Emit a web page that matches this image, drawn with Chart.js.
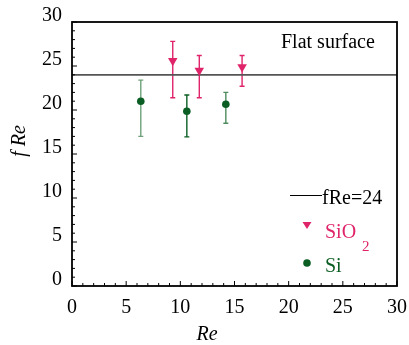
<!DOCTYPE html>
<html>
<head>
<meta charset="utf-8">
<script src="https://cdn.jsdelivr.net/npm/chart.js@4/dist/chart.umd.min.js"></script>
<style>
  html, body { margin: 0; padding: 0; background: #fff; }
  #wrap { width: 409px; height: 345px; }
</style>
</head>
<body>
<div id="wrap"><canvas id="fre"></canvas></div>
<script>
// values
var sio2Re = [9.3, 11.75, 15.7];
var sio2F = [25.6, 24.5, 24.9];
var sio2Lo = [21.4, 21.4, 22.7];
var sio2Hi = [27.8, 26.2, 26.2];

var siRe = [6.35, 10.6, 14.2];
var siF = [21.0, 19.85, 20.65];
var siLo = [17.0, 16.95, 18.5];
var siHi = [23.4, 21.7, 22.0];

var flatLineRe = [0, 30];
var flatLineF = [24, 24];

var tickValues = [0, 5, 10, 15, 20, 25, 30];

var PINK = '#e0246a';
var GREEN = '#0b5e23';
var SERIF = '"Liberation Serif", "Times New Roman", serif';

function pts(xs, ys) {
  return xs.map(function (x, i) { return { x: x, y: ys[i] }; });
}

// error bars, inward ticks, frame, legend and labels
var decor = {
  id: 'decor',
  beforeDatasetsDraw: function (chart) {
    var ctx = chart.ctx, xs = chart.scales.x, ys = chart.scales.y;
    function bars(re, lo, hi, colors) {
      for (var i = 0; i < re.length; i++) {
        var px = xs.getPixelForValue(re[i]);
        var pl = ys.getPixelForValue(lo[i]);
        var ph = ys.getPixelForValue(hi[i]);
        ctx.strokeStyle = colors[i];
        ctx.lineWidth = 1.4;
        ctx.beginPath();
        ctx.moveTo(px, pl); ctx.lineTo(px, ph);
        ctx.moveTo(px - 2.5, pl); ctx.lineTo(px + 2.5, pl);
        ctx.moveTo(px - 2.5, ph); ctx.lineTo(px + 2.5, ph);
        ctx.stroke();
      }
    }
    ctx.save();
    bars(sio2Re, sio2Lo, sio2Hi, [PINK, PINK, PINK]);
    bars(siRe, siLo, siHi, ['#6fa27b', GREEN, '#4f8c5e']);
    ctx.restore();
  },
  afterDraw: function (chart) {
    var ctx = chart.ctx, a = chart.chartArea;
    var xs = chart.scales.x, ys = chart.scales.y;
    ctx.save();
    ctx.strokeStyle = '#000';
    ctx.lineWidth = 1;
    ctx.beginPath();
    for (var v = 0; v <= 30; v++) {
      var len = v % 5 === 0 ? 5 : 3;
      var py = ys.getPixelForValue(v);
      ctx.moveTo(a.left, py); ctx.lineTo(a.left + len, py);
      var px = xs.getPixelForValue(v);
      ctx.moveTo(px, a.bottom); ctx.lineTo(px, a.bottom - len);
    }
    ctx.stroke();
    ctx.lineWidth = 1.8;
    ctx.strokeRect(a.left, a.top, a.right - a.left, a.bottom - a.top);

    ctx.fillStyle = '#000';
    ctx.font = '20px ' + SERIF;
    ctx.textBaseline = 'alphabetic';
    ctx.textAlign = 'left';
    ctx.fillText('Flat surface', 281, 48);

    // legend
    ctx.strokeStyle = '#000';
    ctx.lineWidth = 1;
    ctx.beginPath();
    ctx.moveTo(290, 195.5); ctx.lineTo(322, 195.5);
    ctx.stroke();
    ctx.fillText('fRe=24', 322, 204);

    ctx.fillStyle = PINK;
    ctx.beginPath();
    ctx.moveTo(302.5, 222); ctx.lineTo(311.5, 222); ctx.lineTo(307, 229);
    ctx.closePath(); ctx.fill();
    ctx.fillText('SiO', 325, 238);
    ctx.font = '15px ' + SERIF;
    ctx.fillText('2', 362, 251);

    ctx.fillStyle = GREEN;
    ctx.beginPath();
    ctx.arc(307, 263, 3.8, 0, Math.PI * 2);
    ctx.fill();
    ctx.font = '20px ' + SERIF;
    ctx.fillText('Si', 325, 272);

    // axis titles
    ctx.fillStyle = '#000';
    ctx.font = 'italic 20px ' + SERIF;
    ctx.textAlign = 'center';
    ctx.fillText('Re', 207, 340);
    ctx.translate(25, 141);
    ctx.rotate(-Math.PI / 2);
    ctx.fillText('f Re', 0, 0);
    ctx.restore();
  }
};

new Chart(document.getElementById('fre'), {
  type: 'scatter',
  data: {
    datasets: [
      {
        label: 'fRe=24',
        data: pts(flatLineRe, flatLineF),
        showLine: true,
        borderColor: '#555',
        borderWidth: 1.8,
        pointRadius: 0,
        order: 3
      },
      {
        label: 'SiO2',
        data: pts(sio2Re, sio2F),
        pointStyle: 'triangle',
        rotation: 180,
        pointRadius: 5.5,
        pointHoverRadius: 5.5,
        backgroundColor: PINK,
        borderColor: PINK,
        borderWidth: 0,
        order: 1
      },
      {
        label: 'Si',
        data: pts(siRe, siF),
        pointStyle: 'circle',
        pointRadius: 3.8,
        pointHoverRadius: 3.8,
        backgroundColor: GREEN,
        borderColor: GREEN,
        borderWidth: 0,
        order: 2
      }
    ]
  },
  options: {
    responsive: true,
    maintainAspectRatio: false,
    animation: false,
    layout: { padding: { top: 22, right: 12, left: 0, bottom: 0 } },
    plugins: { legend: { display: false }, tooltip: { enabled: false } },
    scales: {
      x: {
        type: 'linear',
        min: 0, max: 30,
        afterFit: function (s) { s.height = 59; s.paddingLeft = 0; s.paddingRight = 0; },
        afterBuildTicks: function (s) { s.ticks = tickValues.map(function (v) { return { value: v }; }); },
        grid: { display: false, drawTicks: false },
        border: { display: false },
        ticks: { color: '#000', padding: 10, maxRotation: 0, font: { family: SERIF, size: 20 } }
      },
      y: {
        type: 'linear',
        min: 0, max: 30,
        afterFit: function (s) { s.width = 72; s.paddingTop = 0; s.paddingBottom = 0; },
        afterBuildTicks: function (s) { s.ticks = tickValues.map(function (v) { return { value: v }; }); },
        grid: { display: false, drawTicks: false },
        border: { display: false },
        ticks: { color: '#000', padding: 10, labelOffset: -6, font: { family: SERIF, size: 20 } }
      }
    }
  },
  plugins: [decor]
});
</script>
</body>
</html>
